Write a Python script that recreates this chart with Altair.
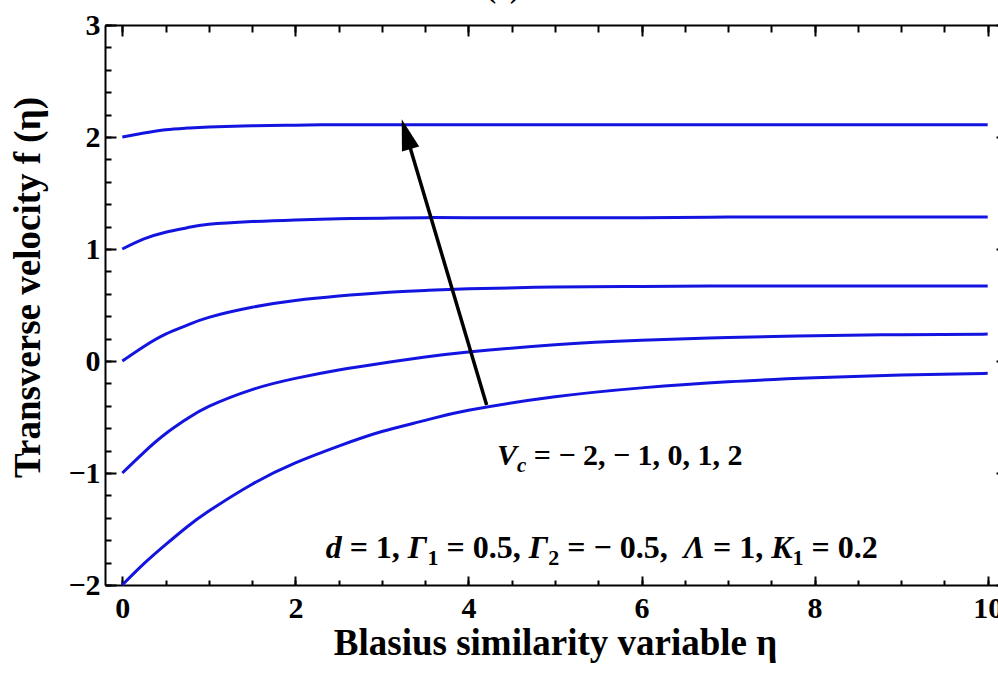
import altair as alt
import pandas as pd

# ---- data ----
eta = [0, 0.25, 0.5, 0.75, 1, 1.5, 2, 2.5, 3, 3.5, 4, 5, 6, 7, 8, 9, 10]
f_vc_m2 = [-2.00, -1.81, -1.64, -1.48, -1.34, -1.10, -0.91, -0.76, -0.63, -0.53, -0.44, -0.32, -0.24, -0.185, -0.15, -0.125, -0.11]
f_vc_m1 = [-1.00, -0.815, -0.65, -0.515, -0.405, -0.255, -0.155, -0.08, -0.02, 0.035, 0.08, 0.145, 0.185, 0.21, 0.225, 0.235, 0.24]
f_vc_0 = [0.00, 0.13, 0.24, 0.32, 0.39, 0.48, 0.54, 0.58, 0.61, 0.63, 0.645, 0.66, 0.665, 0.67, 0.67, 0.67, 0.67]
f_vc_1 = [1.00, 1.09, 1.15, 1.19, 1.22, 1.245, 1.26, 1.27, 1.275, 1.28, 1.28, 1.28, 1.28, 1.285, 1.285, 1.285, 1.285]
f_vc_2 = [2.00, 2.035, 2.065, 2.08, 2.09, 2.10, 2.105, 2.11, 2.11, 2.11, 2.11, 2.11, 2.11, 2.11, 2.11, 2.11, 2.11]
vc_values = [-2, -1, 0, 1, 2]
series = [f_vc_m2, f_vc_m1, f_vc_0, f_vc_1, f_vc_2]

x_major = [0, 2, 4, 6, 8, 10]
x_minor = [i * 0.5 for i in range(0, 21)]
y_major = [-2, -1, 0, 1, 2, 3]
y_minor = [round(-2 + i * 0.2, 1) for i in range(0, 26)]

arrow_tail = (4.21, -0.393)
arrow_head = (3.28, 2.025)

rows = []
for vc, ys in zip(vc_values, series):
    for e, f in zip(eta, ys):
        rows.append({"eta": e, "f": f, "vc": vc})
df = pd.DataFrame(rows)

FONT = "Liberation Serif"
BLUE = "#1414e0"

xscale = alt.Scale(domain=[-0.2, 10.2], range=[0, 900], nice=False, zero=False)
yscale = alt.Scale(domain=[-2, 3], nice=False, zero=False)

common_axis = dict(grid=False, tickColor="black", tickWidth=2, domainColor="black",
                   domainWidth=2, labelFont=FONT, labelFontWeight="bold",
                   labelFontSize=30, labelColor="black", titleFont=FONT,
                   titleFontWeight="bold", titleFontSize=37, titleColor="black")


def ax(**kw):
    d = dict(common_axis)
    d.update(kw)
    return alt.Axis(**d)


def axis_layer(xaxis, yaxis):
    enc = {"x": alt.X("eta:Q", scale=xscale, axis=xaxis)}
    if yaxis is not None:
        enc["y"] = alt.Y("f:Q", scale=yscale, axis=yaxis)
    else:
        enc["y"] = alt.Y("f:Q", scale=yscale, axis=None)
    return alt.Chart(df).mark_line(opacity=0).encode(detail="vc:N", **enc)


lines = alt.Chart(df).mark_line(interpolate="natural", strokeWidth=3, color=BLUE).encode(
    x=alt.X("eta:Q", scale=xscale,
            axis=ax(orient="bottom", values=x_major, tickSize=9, offset=-9, domain=False,
                    labelPadding=8, format="d", title="Blasius similarity variable η",
                    titlePadding=2)),
    y=alt.Y("f:Q", scale=yscale,
            axis=ax(orient="left", values=y_major, tickSize=11, offset=-11, domain=False,
                    labelPadding=5, format="d", title="Transverse  velocity  f (η)",
                    titlePadding=20, titleY=262)),
    detail="vc:N",
)

layers = [lines]
layers.append(axis_layer(
    ax(orient="bottom", values=x_minor, tickSize=5, offset=-5, domain=False, labels=False, title=None),
    ax(orient="left", values=y_minor, tickSize=6, offset=-6, domain=False, labels=False, title=None)))
layers.append(axis_layer(
    ax(orient="bottom", ticks=False, labels=False, domain=True, title=None),
    ax(orient="left", ticks=False, labels=False, domain=True, title=None)))
layers.append(axis_layer(
    ax(orient="top", values=x_major, tickSize=11, offset=-11, domain=False, labels=False, title=None),
    ax(orient="right", values=y_major, tickSize=9, offset=-2, domain=False, labels=False, title=None)))
layers.append(axis_layer(
    ax(orient="top", values=x_minor, tickSize=7, offset=-7, domain=False, labels=False, title=None),
    None))
layers.append(axis_layer(
    ax(orient="top", ticks=False, labels=False, domain=True, title=None),
    None))

# arrow
arrow_df = pd.DataFrame([{"x": arrow_tail[0], "y": arrow_tail[1], "x2": arrow_head[0], "y2": arrow_head[1]}])
layers.append(alt.Chart(arrow_df).mark_rule(color="black", strokeWidth=3.5).encode(
    x=alt.X("x:Q", scale=xscale, axis=None), y=alt.Y("y:Q", scale=yscale, axis=None),
    x2="x2:Q", y2="y2:Q"))
head_df = pd.DataFrame([{"x": arrow_head[0], "y": arrow_head[1]}])
layers.append(alt.Chart(head_df).mark_point(
    shape="M0,-1L0.58,1L-0.58,1Z", size=961, angle=343.4, filled=True, color="black", opacity=1,
    strokeWidth=0).encode(
    x=alt.X("x:Q", scale=xscale, axis=None), y=alt.Y("y:Q", scale=yscale, axis=None)))


def seg(text, x, y, dx, dy=0, size=30, italic=False, align="left", baseline="alphabetic"):
    d = pd.DataFrame([{"x": x, "y": y, "t": text}])
    kw = dict(font=FONT, fontSize=size, fontWeight="bold", color="black", align=align,
              baseline=baseline, dx=dx, dy=dy)
    if italic:
        kw["fontStyle"] = "italic"
    return alt.Chart(d).mark_text(**kw).encode(
        x=alt.X("x:Q", scale=xscale, axis=None), y=alt.Y("y:Q", scale=yscale, axis=None),
        text="t:N")


widths = {"V": 0.667, "c": 0.444, "d": 0.5, "=": 0.57, "1": 0.5, "2": 0.5, "Γ": 0.61,
          "Λ": 0.667, "K": 0.667, "0.5,": 1.5, "0.2": 1.25, "−": 0.57, "1,": 0.75,
          "2,": 0.75, "0,": 0.75}
SP = 0.25


def text_run(x, y, pieces, fs):
    """pieces: (text, italic, subscript, spaces_before)"""
    sub_fs = round(fs * 0.7)
    out = []
    cur = 0.0
    for text, it, sub, sp in pieces:
        size = sub_fs if sub else fs
        cur += sp * SP * fs
        out.append(seg(text, x, y, round(cur, 1), dy=round(fs * 0.23) if sub else 0,
                       italic=it, size=size))
        cur += widths[text] * size
    return out


# annotation 1: V_c = − 2, − 1, 0, 1, 2
layers += text_run(4.33, -0.93, [
    ("V", True, False, 0), ("c", True, True, 0), ("=", False, False, 1), ("−", False, False, 1),
    ("2,", False, False, 1), ("−", False, False, 1), ("1,", False, False, 1),
    ("0,", False, False, 1), ("1,", False, False, 1), ("2", False, False, 1),
], 30)

# annotation 2: d = 1, Γ1 = 0.5, Γ2 = − 0.5,  Λ = 1, K1 = 0.2
layers += text_run(2.35, -1.76, [
    ("d", True, False, 0), ("=", False, False, 1), ("1,", False, False, 1),
    ("Γ", True, False, 1), ("1", False, True, 0), ("=", False, False, 1), ("0.5,", False, False, 1),
    ("Γ", True, False, 1), ("2", False, True, 0), ("=", False, False, 1), ("−", False, False, 1),
    ("0.5,", False, False, 1),
    ("Λ", True, False, 2), ("=", False, False, 1), ("1,", False, False, 1),
    ("K", True, False, 1), ("1", False, True, 0), ("=", False, False, 1), ("0.2", False, False, 1),
], 32)

# panel label (cut off at the top, as in the reference)
layers.append(seg("(a)", 4.40, 3.24, 0, size=28, align="center"))

chart = alt.layer(*layers).resolve_axis(x="independent", y="independent").properties(
    width=893, height=560,
    padding={"left": 105, "top": 25, "right": 0, "bottom": 102},
    autosize=alt.AutoSizeParams(type="none"),
).configure_view(stroke=None).configure(background="white")

chart.save("out.html", embed_options={"renderer": "svg", "actions": False})
